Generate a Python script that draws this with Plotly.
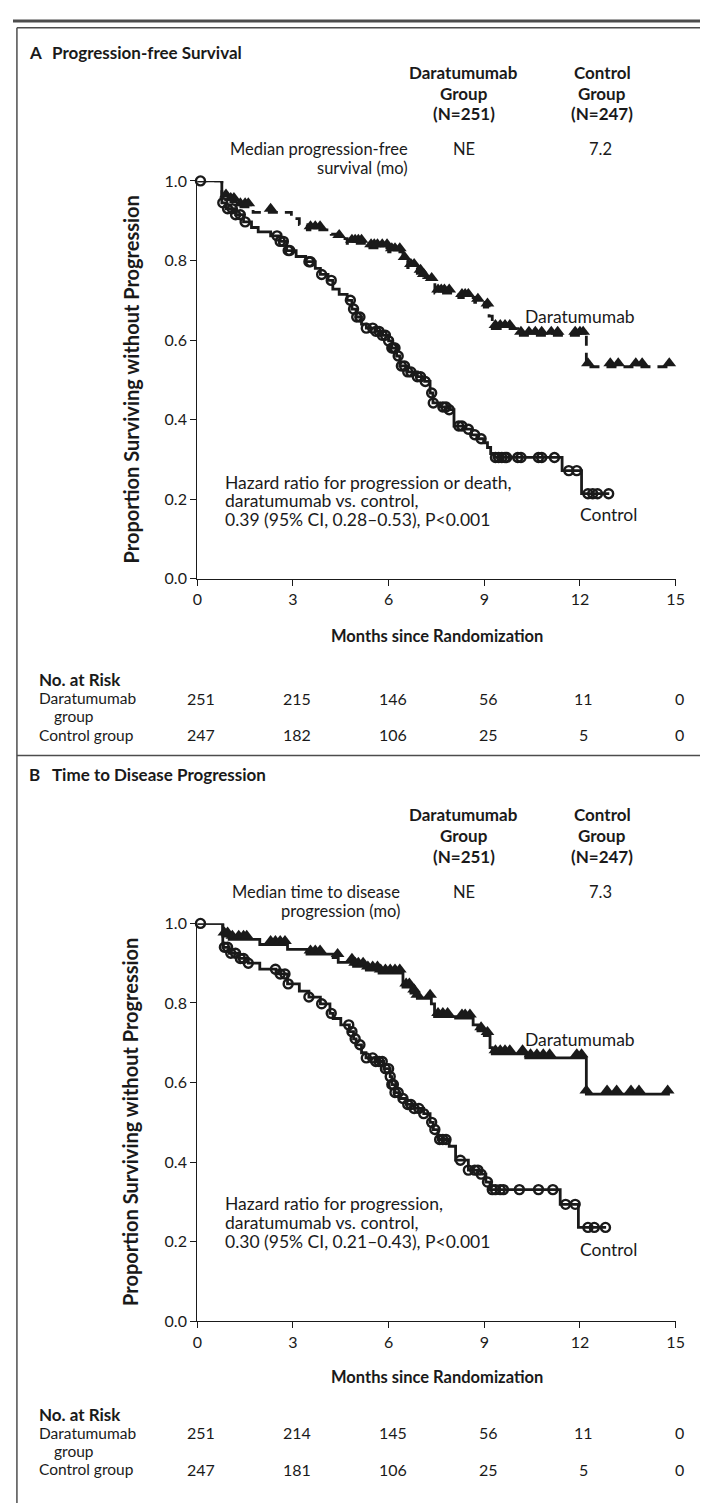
import plotly.graph_objects as go

W, H = 708, 1504
FONT = "Lato"
INK = "#1a1a1a"

# ---------------- data ----------------
month_ticks = [0, 3, 6, 9, 12, 15]
surv_ticks = [0.0, 0.2, 0.4, 0.6, 0.8, 1.0]
surv_tick_labels = ["0.0", "0.2", "0.4", "0.6", "0.8", "1.0"]

# Panel A - Progression-free survival
a_dara_t = [0, 0.77, 1.05, 1.3, 1.75, 2.95, 3.2, 3.45, 4.2, 4.4, 4.7, 5.3, 6.0, 6.45, 6.6, 6.9, 7.1, 7.3,
            7.45, 8.2, 8.7, 9.0, 9.15, 9.25, 10.05, 12.2]
a_dara_s = [1.0, 0.957, 0.948, 0.935, 0.921, 0.905, 0.89, 0.877, 0.866, 0.855, 0.843, 0.832, 0.822, 0.80,
            0.782, 0.768, 0.757, 0.747, 0.718, 0.707, 0.695, 0.683, 0.66, 0.629, 0.612, 0.533]
a_dara_end = 14.85
a_dara_cens = [0.1, 0.9, 1.05, 1.15, 1.35, 1.5, 1.6, 2.3, 3.55, 3.7, 3.85, 4.45, 4.85, 4.95, 5.05, 5.15, 5.45,
               5.55, 5.65, 5.8, 5.95, 6.1, 6.2, 6.35, 6.5, 6.7, 6.8, 7.0, 7.1, 7.35, 7.55, 7.65, 7.75, 7.9,
               8.3, 8.4, 8.5, 8.8, 9.1, 9.35, 9.5, 9.65, 9.8, 10.15, 10.4, 10.6, 10.8, 11.1, 11.3, 11.85,
               12.0, 12.1, 12.25, 12.95, 13.2, 13.75, 13.95, 14.8]

a_ctrl_t = [0, 0.77, 0.9, 1.2, 1.45, 1.7, 1.91, 2.3, 2.6, 2.8, 3.1, 3.4, 3.7, 3.86, 4.1, 4.25, 4.45, 4.7,
            4.85, 4.98, 5.15, 5.3, 5.6, 5.8, 6.0, 6.1, 6.25, 6.35, 6.6, 6.9, 7.13, 7.3, 7.39, 7.6, 7.9, 8.05,
            8.36, 8.6, 8.77, 8.98, 9.1, 9.2, 9.3, 11.44, 12.05]
a_ctrl_s = [1.0, 0.945, 0.93, 0.915, 0.897, 0.883, 0.872, 0.862, 0.848, 0.825, 0.81, 0.797, 0.78, 0.765,
            0.75, 0.728, 0.715, 0.70, 0.678, 0.658, 0.64, 0.63, 0.622, 0.612, 0.598, 0.58, 0.56, 0.535,
            0.52, 0.508, 0.496, 0.467, 0.442, 0.432, 0.425, 0.384, 0.376, 0.362, 0.352, 0.342, 0.33, 0.315,
            0.305, 0.272, 0.214]
a_ctrl_end = 12.92
a_ctrl_cens = [0.1, 0.8, 0.95, 1.1, 1.2, 1.35, 1.5, 2.5, 2.6, 2.7, 2.85, 2.9, 3.5, 3.55, 3.9, 4.2, 4.8, 4.9,
               5.0, 5.1, 5.3, 5.5, 5.6, 5.7, 5.8, 5.9, 6.0, 6.1, 6.15, 6.2, 6.3, 6.4, 6.5, 6.6, 6.7, 6.9,
               7.0, 7.15, 7.35, 7.4, 7.7, 7.8, 7.9, 8.2, 8.3, 8.5, 8.7, 8.9, 9.35, 9.45, 9.55, 9.65, 9.7,
               10.05, 10.15, 10.7, 10.8, 11.2, 11.65, 11.9, 12.25, 12.4, 12.55, 12.9]

# Panel B - Time to disease progression
b_dara_t = [0, 0.8, 1.0, 1.96, 2.83, 3.44, 4.26, 4.42, 4.9, 5.3, 5.7, 6.45, 6.7, 6.9, 7.34, 7.44, 8.1,
            8.65, 8.8, 9.0, 9.18, 9.25, 10.3, 12.2]
b_dara_s = [1.0, 0.968, 0.96, 0.947, 0.935, 0.923, 0.914, 0.902, 0.892, 0.883, 0.875, 0.84, 0.825, 0.812,
            0.798, 0.766, 0.762, 0.745, 0.73, 0.718, 0.688, 0.672, 0.662, 0.571]
b_dara_end = 14.82
b_dara_cens = [0.1, 0.85, 0.95, 1.1, 1.3, 1.45, 1.55, 2.3, 2.45, 2.6, 2.75, 3.55, 3.7, 3.85, 4.4, 4.85,
               4.95, 5.05, 5.2, 5.35, 5.5, 5.65, 5.75, 5.9, 6.05, 6.2, 6.35, 6.55, 6.65, 6.8, 6.9, 7.3,
               7.55, 7.7, 7.85, 8.3, 8.4, 8.55, 8.9, 9.1, 9.35, 9.5, 9.65, 9.8, 10.2, 10.45, 10.65, 10.85,
               11.05, 11.9, 12.05, 12.2, 12.85, 13.15, 13.6, 13.85, 14.75]

b_ctrl_t = [0, 0.8, 1.0, 1.3, 1.6, 1.96, 2.47, 2.83, 3.2, 3.5, 3.86, 4.16, 4.26, 4.5, 4.77, 4.9, 4.98, 5.15,
            5.29, 5.59, 5.85, 6.05, 6.1, 6.2, 6.35, 6.55, 6.8, 7.1, 7.3, 7.4, 7.55, 7.9, 8.1, 8.5, 8.9,
            9.05, 9.18, 11.38, 11.95]
b_ctrl_s = [1.0, 0.94, 0.925, 0.912, 0.90, 0.885, 0.873, 0.848, 0.83, 0.815, 0.798, 0.774, 0.761, 0.745,
            0.728, 0.71, 0.695, 0.675, 0.662, 0.653, 0.635, 0.615, 0.595, 0.575, 0.56, 0.545, 0.535, 0.522,
            0.50, 0.482, 0.457, 0.44, 0.405, 0.38, 0.37, 0.35, 0.331, 0.294, 0.236]
b_ctrl_end = 12.82
b_ctrl_cens = [0.1, 0.85, 0.95, 1.05, 1.2, 1.35, 1.45, 1.6, 2.45, 2.6, 2.75, 2.85, 3.5, 3.9, 4.2, 4.75,
               4.85, 4.95, 5.1, 5.3, 5.5, 5.6, 5.7, 5.8, 5.9, 6.0, 6.05, 6.1, 6.15, 6.2, 6.3, 6.45, 6.6,
               6.7, 6.8, 6.95, 7.1, 7.35, 7.45, 7.6, 7.7, 7.8, 8.25, 8.5, 8.7, 8.8, 8.9, 9.1, 9.25, 9.35,
               9.5, 9.6, 10.1, 10.7, 11.15, 11.55, 11.85, 12.25, 12.45, 12.8]

risk_a_dara = [251, 215, 146, 56, 11, 0]
risk_a_ctrl = [247, 182, 106, 25, 5, 0]
risk_b_dara = [251, 214, 145, 56, 11, 0]
risk_b_ctrl = [247, 181, 106, 25, 5, 0]

# ---------------- helpers ----------------
REG = 17.5    # regular text size
MED = 16.5    # median row text
BOLD = 17     # bold text size
TICK = 16
RISK = 15.5


def px(x):
    return x / W


def py(y):
    return 1 - y / H


def step_at(ts, ss, t):
    v = ss[0]
    for ti, si in zip(ts, ss):
        if ti <= t:
            v = si
        else:
            break
    return v


fig = go.Figure()
annotations = []
shapes = []

X0, X1 = 188, 676           # pixel position of months 0 and 15


def txt(x, y, text, size=REG, bold=False, xanchor="left", xref="paper", xshift=0):
    t = "<b>%s</b>" % text if bold else text
    annotations.append(dict(
        x=x if xref != "paper" else px(x), y=py(y), xref=xref, yref="paper", text=t,
        showarrow=False, xanchor=xanchor, yanchor="middle", xshift=xshift,
        font=dict(family=FONT, size=size, color=INK)))


def add_panel(k, off, letter, title, title_y, med_l1, med_l2, med_right, med_dara, med_ctrl,
              dara_t, dara_s, dara_end, dara_cens, dara_dash,
              ctrl_t, ctrl_s, ctrl_end, ctrl_cens,
              hr_lines, hr_y, dara_lab_y, ctrl_lab_y, risk_d, risk_c, months_y, risk_rows):
    xa = "x" if k == 1 else "x%d" % k
    ya = "y" if k == 1 else "y%d" % k
    top, bot = 165 + off, 568 + off
    axis_common = dict(showline=True, linecolor=INK, linewidth=1.3, ticks="outside", ticklen=6,
                       tickwidth=1.3, tickcolor=INK, showgrid=False, zeroline=False,
                       tickfont=dict(family=FONT, size=TICK, color=INK), fixedrange=True)
    fig.layout["xaxis" if k == 1 else "xaxis%d" % k] = dict(
        axis_common, domain=[px(X0), px(X1)], range=[0, 15], tickvals=month_ticks,
        anchor=ya)
    fig.layout["yaxis" if k == 1 else "yaxis%d" % k] = dict(
        axis_common, domain=[py(bot), py(top)], range=[0, 1], tickvals=surv_ticks,
        ticktext=surv_tick_labels, anchor=xa)

    # curves
    fig.add_trace(go.Scatter(x=ctrl_t + [ctrl_end], y=ctrl_s + [ctrl_s[-1]], mode="lines",
                             line=dict(color=INK, width=2.8, shape="hv"), xaxis=xa, yaxis=ya,
                             cliponaxis=False, showlegend=False, hoverinfo="skip"))
    fig.add_trace(go.Scatter(x=ctrl_cens, y=[step_at(ctrl_t, ctrl_s, t) for t in ctrl_cens],
                             mode="markers", marker=dict(symbol="circle-open", size=9, color=INK,
                                                         line=dict(width=2.4, color=INK)),
                             xaxis=xa, yaxis=ya, cliponaxis=False, showlegend=False, hoverinfo="skip"))
    fig.add_trace(go.Scatter(x=dara_t + [dara_end], y=dara_s + [dara_s[-1]], mode="lines",
                             line=dict(color=INK, width=2.8, shape="hv",
                                       dash="10px,7px" if dara_dash else "solid"),
                             xaxis=xa, yaxis=ya, cliponaxis=False, showlegend=False, hoverinfo="skip"))
    fig.add_trace(go.Scatter(x=dara_cens, y=[step_at(dara_t, dara_s, t) + 0.009 for t in dara_cens],
                             mode="markers", marker=dict(symbol="triangle-up", size=12, color=INK,
                                                         line=dict(width=0)),
                             xaxis=xa, yaxis=ya, cliponaxis=False, showlegend=False, hoverinfo="skip"))

    # header texts
    txt(14, title_y, letter, size=BOLD, bold=True)
    txt(38, title_y, title, size=BOLD, bold=True)
    for i, line in enumerate(["Daratumumab", "Group", "(N=251)"]):
        txt(460, 55 + off + 21 * i, line, size=BOLD, bold=True, xanchor="center")
    for i, line in enumerate(["Control", "Group", "(N=247)"]):
        txt(601, 55 + off + 21 * i, line, size=BOLD, bold=True, xanchor="center")
    txt(med_right, 133 + off, med_l1, size=MED, xanchor="right")
    txt(med_right, 152 + off, med_l2, size=MED, xanchor="right")
    txt(460, 133 + off, med_dara, size=MED, xanchor="center")
    txt(599, 133 + off, med_ctrl, size=MED, xanchor="center")

    annotations.append(dict(x=px(120), y=py((top + bot) / 2), xref="paper", yref="paper",
                            text="<b>Proportion Surviving without Progression</b>", textangle=-90,
                            showarrow=False, xanchor="center", yanchor="middle",
                            font=dict(family=FONT, size=20, color=INK)))
    txt(433, months_y, "Months since Randomization", size=16.5, bold=True, xanchor="center")

    for i, line in enumerate(hr_lines):
        txt(214, hr_y + 19 * i, line)
    txt(520, dara_lab_y, "Daratumumab")
    txt(576, ctrl_lab_y, "Control")

    r0, r1, r2, r3 = risk_rows
    txt(24, r0, "No. at Risk", size=BOLD, bold=True)
    txt(24, r1, "Daratumumab", size=RISK)
    txt(40, r2, "group", size=RISK)
    txt(24, r3, "Control group", size=RISK)
    for m, n in zip(month_ticks, risk_d):
        txt(m, r1, str(n), size=TICK, xanchor="center", xref=xa, xshift=4)
    for m, n in zip(month_ticks, risk_c):
        txt(m, r3, str(n), size=TICK, xanchor="center", xref=xa, xshift=4)


add_panel(1, 0, "A", "Progression-free Survival", 35,
          "Median progression-free", "survival (mo)", 405, "NE", "7.2",
          a_dara_t, a_dara_s, a_dara_end, a_dara_cens, True,
          a_ctrl_t, a_ctrl_s, a_ctrl_end, a_ctrl_cens,
          ["Hazard ratio for progression or death,", "daratumumab vs. control,",
           "0.39 (95% CI, 0.28\u20130.53), P<0.001"], 470, 302, 503,
          risk_a_dara, risk_a_ctrl, 626, (670, 689, 707, 726))
add_panel(2, 752, "B", "Time to Disease Progression", 766,
          "Median time to disease", "progression (mo)", 397, "NE", "7.3",
          b_dara_t, b_dara_s, b_dara_end, b_dara_cens, False,
          b_ctrl_t, b_ctrl_s, b_ctrl_end, b_ctrl_cens,
          ["Hazard ratio for progression,", "daratumumab vs. control,",
           "0.30 (95% CI, 0.21\u20130.43), P<0.001"], 1201, 1035, 1247,
          risk_b_dara, risk_b_ctrl, 1376, (1414, 1433, 1451, 1470))

# frame lines
frame = "#4d4d4d"
shapes.append(dict(type="line", xref="paper", yref="paper", x0=0, x1=1, y0=py(3), y1=py(3),
                   line=dict(color=frame, width=3)))
shapes.append(dict(type="line", xref="paper", yref="paper", x0=px(4), x1=1, y0=py(10), y1=py(10),
                   line=dict(color=frame, width=1.5)))
shapes.append(dict(type="line", xref="paper", yref="paper", x0=px(4), x1=px(4), y0=py(10), y1=0,
                   line=dict(color=frame, width=1.5)))
shapes.append(dict(type="line", xref="paper", yref="paper", x0=px(4), x1=1, y0=py(747), y1=py(747),
                   line=dict(color=frame, width=1.5)))

fig.update_layout(width=W, height=H, margin=dict(l=0, r=0, t=0, b=0), paper_bgcolor="white",
                  plot_bgcolor="white", annotations=annotations, shapes=shapes, showlegend=False,
                  font=dict(family=FONT, color=INK))

fig.write_html("out.html")
